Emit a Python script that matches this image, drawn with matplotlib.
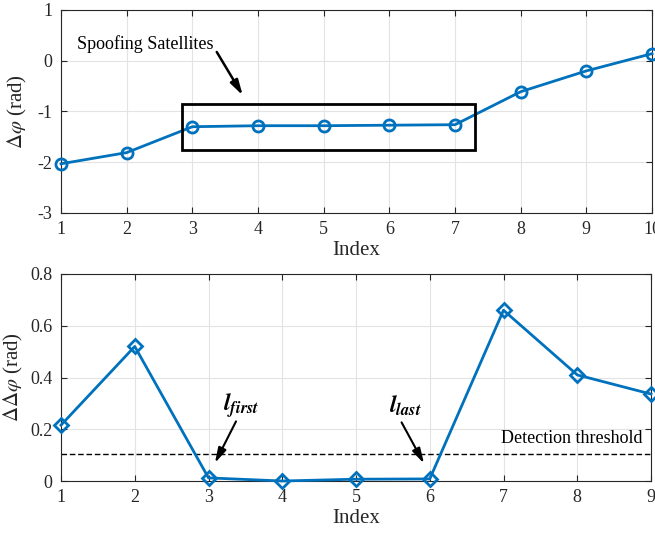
import numpy as np
import matplotlib
matplotlib.use("Agg")
import matplotlib.pyplot as plt

plt.rcParams["font.family"] = ["Liberation Serif", "DejaVu Serif"]
plt.rcParams["mathtext.fontset"] = "stix"
plt.rcParams["axes.unicode_minus"] = False

# Phase difference per satellite index
idx_top = [1, 2, 3, 4, 5, 6, 7, 8, 9, 10]
dphi = [-2.03, -1.81, -1.30, -1.28, -1.28, -1.27, -1.26, -0.61, -0.20, 0.14]

# Difference of consecutive phase differences
idx_bot = [1, 2, 3, 4, 5, 6, 7, 8, 9]
ddphi = [0.216, 0.52, 0.012, 0.0, 0.007, 0.008, 0.66, 0.41, 0.336]
threshold = 0.105

blue = "#0072BD"
ink = "#262626"
grid_c = "#e3e3e3"


def style_axes(ax):
    ax.grid(True, color=grid_c, linewidth=0.8)
    ax.set_axisbelow(True)
    for s in ax.spines.values():
        s.set_color(ink)
        s.set_linewidth(0.8)
    ax.tick_params(direction="in", length=4, width=0.8, colors=ink,
                   labelsize=13, top=True, right=True, pad=6)


fig = plt.figure(figsize=(6.55, 5.33), dpi=100)

# Top: phase difference
ax1 = fig.add_axes([61 / 655, 1 - 213 / 533, 591 / 655, 203 / 533])
ax1.plot(idx_top, dphi, color=blue, linewidth=2, marker="o", markersize=8,
         markerfacecolor="none", markeredgewidth=2, clip_on=False, zorder=3)
ax1.set_xlim(1, 10)
ax1.set_ylim(-3, 1)
ax1.set_xticks(idx_top)
ax1.set_yticks([-3, -2, -1, 0, 1])
ax1.set_xlabel("Index", fontsize=15, color=ink, labelpad=2)
ax1.set_ylabel(r"$\Delta\varphi$ (rad)", fontsize=15, color=ink, labelpad=6)
style_axes(ax1)

ax1.add_patch(plt.Rectangle((2.85, -1.75), 4.45, 0.9, fill=False,
                            edgecolor="black", linewidth=2, zorder=4))
ax1.annotate("", xy=(3.79, -0.73), xytext=(3.35, 0.22),
             arrowprops=dict(arrowstyle="-|>,head_length=0.9,head_width=0.25",
                             color="black", linewidth=1.8))
ax1.text(2.28, 0.32, "Spoofing Satellites", fontsize=13, ha="center",
         va="center", color="black")

# Bottom: difference of differences
ax2 = fig.add_axes([61 / 655, 1 - 481 / 533, 590 / 655, 207 / 533])
ax2.plot(idx_bot, ddphi, color=blue, linewidth=2, marker="D", markersize=7,
         markerfacecolor="none", markeredgewidth=2, clip_on=False, zorder=3)
ax2.axhline(threshold, color="black", linestyle="--", linewidth=1,
            dashes=(4, 2))
ax2.set_xlim(1, 9)
ax2.set_ylim(0, 0.8)
ax2.set_xticks(idx_bot)
ax2.set_yticks([0, 0.2, 0.4, 0.6, 0.8])
ax2.set_yticklabels(["0", "0.2", "0.4", "0.6", "0.8"])
ax2.set_xlabel("Index", fontsize=15, color=ink, labelpad=2)
ax2.set_ylabel(r"$\Delta\Delta\varphi$ (rad)", fontsize=15, color=ink,
               labelpad=4)
style_axes(ax2)

ax2.text(8.88, 0.165, "Detection threshold", fontsize=13, ha="right",
         va="center", color="black")

arrow_kw = dict(arrowstyle="-|>,head_length=0.9,head_width=0.25",
                color="black", linewidth=1.5)
ax2.annotate("", xy=(3.07, 0.06), xytext=(3.39, 0.24), arrowprops=arrow_kw)
ax2.text(3.45, 0.29, r"$\mathbfit{l}_{\mathbfit{first}}$", fontsize=17,
         ha="center", va="center")
ax2.annotate("", xy=(5.94, 0.058), xytext=(5.6, 0.236), arrowprops=arrow_kw)
ax2.text(5.67, 0.29, r"$\mathbfit{l}_{\mathbfit{last}}$", fontsize=17,
         ha="center", va="center")

fig.savefig("out.png", dpi=100)
